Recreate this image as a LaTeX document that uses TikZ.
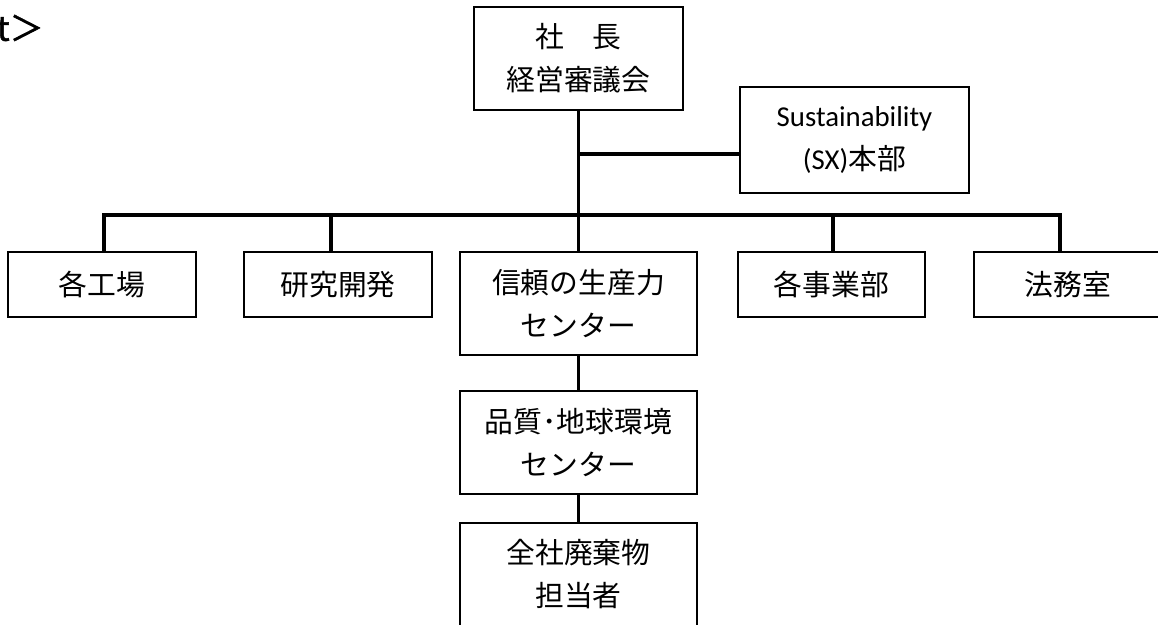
\documentclass[tikz,border=0pt]{standalone}
\usepackage{fontspec}
\setmainfont{Noto Sans CJK JP}
\newfontfamily\latin{Carlito}
\newfontfamily\headfont[FakeBold=1.5]{Noto Sans CJK JP}

\begin{document}
\begin{tikzpicture}[x=0.5pt, y=-0.5pt,
  box/.style={draw, line width=1.1pt, align=center, inner sep=0pt,
    font=\fontsize{14.4}{21.5}\selectfont},
  conn/.style={line width=1.6pt}]
\useasboundingbox (0,0) rectangle (1158,625);

\draw (44,28) node (head) [anchor=east, inner sep=0pt, font=\headfont\fontsize{17}{20}\selectfont] {t＞};

\draw (578.5,58.5) node (ceo) [box, minimum width=104.5pt, minimum height=51.5pt] {社　長\\経営審議会};
\draw (854.5,140)  node (sx)  [box, minimum width=114.5pt, minimum height=53pt] {{\latin Sustainability}\\{\latin (SX)}本部};

\draw (102,284.5)  node (kojo)  [box, minimum width=94pt, minimum height=32.5pt] {各工場};
\draw (338,284.5)  node (rd)    [box, minimum width=94pt, minimum height=32.5pt] {研究開発};
\draw (578.5,303.5) node (shinrai) [box, minimum width=118.5pt, minimum height=51.5pt] {信頼の生産力\\センター};
\draw (831.5,284.5) node (jigyo) [box, minimum width=93.5pt, minimum height=32.5pt] {各事業部};
\draw (1068,284.5) node (homu)  [box, minimum width=94pt, minimum height=32.5pt] {法務室};

\draw (578.5,442.5) node (hinshitsu) [box, minimum width=118.5pt, minimum height=51.5pt] {品質･地球環境\\センター};
\draw (578.5,574.5) node (haiki)     [box, minimum width=118.5pt, minimum height=51.5pt] {全社廃棄物\\担当者};

% trunk and branches
\coordinate (br) at (578.5,154);
\coordinate (b1) at (104,215);
\coordinate (b2) at (331,215);
\coordinate (b4) at (833,215);
\coordinate (b5) at (1060,215);

\draw[conn] (ceo.south) -- (shinrai.north);
\draw[conn] (br) -- (br -| sx.west);
\draw[conn] (b1 |- kojo.north) -- (b1) -- (b5) -- (b5 |- homu.north);
\draw[conn] (b2) -- (b2 |- rd.north);
\draw[conn] (b4) -- (b4 |- jigyo.north);

\draw[conn] (shinrai.south) -- (hinshitsu.north);
\draw[conn] (hinshitsu.south) -- (haiki.north);
\end{tikzpicture}
\end{document}
